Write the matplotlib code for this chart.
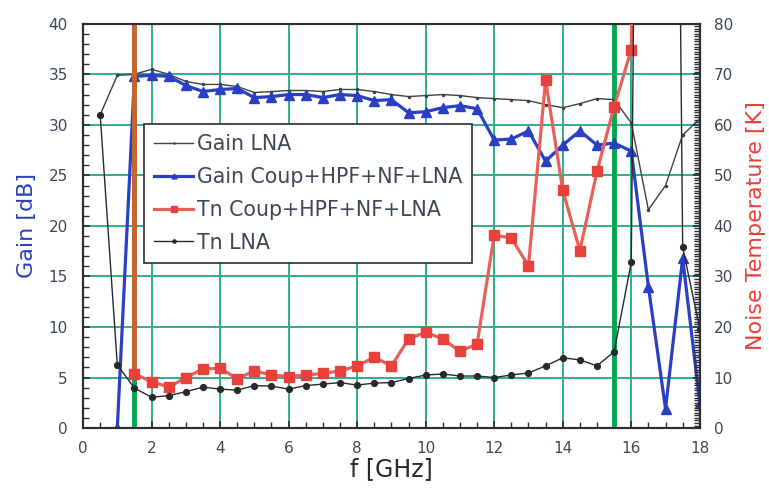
import numpy as np
import matplotlib
matplotlib.use("Agg")
import matplotlib.pyplot as plt
from matplotlib.ticker import MultipleLocator

plt.rcParams['font.family'] = ['DejaVu Sans']

# --- data ---
f_gain_lna = [0.5, 1.0, 1.5, 2.0, 2.5, 3.0, 3.5, 4.0, 4.5, 5.0, 5.5, 6.0, 6.5, 7.0, 7.5, 8.0, 8.5,
              9.0, 9.5, 10.0, 10.5, 11.0, 11.5, 12.0, 12.5, 13.0, 13.5, 14.0, 14.5, 15.0, 15.5,
              16.0, 16.5, 17.0, 17.5, 18.0]
gain_lna = [31.0, 34.9, 35.0, 35.5, 35.0, 34.3, 34.0, 34.0, 33.8, 33.2, 33.3, 33.4, 33.4, 33.3, 33.5,
            33.5, 33.3, 33.0, 32.8, 32.9, 33.0, 32.9, 32.7, 32.6, 32.5, 32.4, 32.0, 31.7, 32.1, 32.6,
            32.5, 30.2, 21.6, 24.0, 29.0, 30.6]

f_gain_coup = [1.0, 1.5, 2.0, 2.5, 3.0, 3.5, 4.0, 4.5, 5.0, 5.5, 6.0, 6.5, 7.0, 7.5, 8.0, 8.5, 9.0,
               9.5, 10.0, 10.5, 11.0, 11.5, 12.0, 12.5, 13.0, 13.5, 14.0, 14.5, 15.0, 15.5, 16.0,
               16.5, 17.0, 17.5, 18.0]
gain_coup = [0.0, 34.8, 34.9, 34.8, 33.9, 33.3, 33.5, 33.6, 32.7, 32.8, 33.0, 33.0, 32.7, 33.0, 32.9,
             32.4, 32.5, 31.2, 31.3, 31.7, 31.9, 31.6, 28.5, 28.6, 29.4, 26.4, 28.0, 29.4, 28.0,
             28.2, 27.4, 14.0, 1.9, 16.8, 2.5]

# first and last points are off the top of the chart
f_tn_coup = [1.5, 1.5, 2.0, 2.5, 3.0, 3.5, 4.0, 4.5, 5.0, 5.5, 6.0, 6.5, 7.0, 7.5, 8.0, 8.5, 9.0,
             9.5, 10.0, 10.5, 11.0, 11.5, 12.0, 12.5, 13.0, 13.5, 14.0, 14.5, 15.0, 15.5, 16.0, 16.5]
tn_coup = [400, 10.7, 9.2, 8.1, 10.0, 11.7, 11.8, 9.8, 11.3, 10.5, 10.2, 10.5, 10.8, 11.3, 12.3,
           14.0, 12.3, 17.6, 19.0, 17.6, 15.2, 16.6, 38.2, 37.6, 32.1, 68.9, 47.1, 35.1, 50.8,
           63.6, 74.9, 300]

f_tn_lna = [0.5, 1.0, 1.5, 2.0, 2.5, 3.0, 3.5, 4.0, 4.5, 5.0, 5.5, 6.0, 6.5, 7.0, 7.5, 8.0, 8.5,
            9.0, 9.5, 10.0, 10.5, 11.0, 11.5, 12.0, 12.5, 13.0, 13.5, 14.0, 14.5, 15.0, 15.5,
            16.0, 16.5, 17.0, 17.5, 18.0]
tn_lna = [62.0, 12.5, 7.9, 6.1, 6.4, 7.2, 8.1, 7.7, 7.5, 8.4, 8.3, 7.7, 8.4, 8.7, 9.0, 8.5, 8.9,
          9.0, 9.8, 10.5, 10.7, 10.3, 10.3, 10.0, 10.5, 10.9, 12.3, 13.9, 13.5, 12.3, 15.1,
          32.8, 400, 400, 35.8, 19.6]

band_edges = [1.5, 15.5]

labels = ["Gain LNA", "Gain Coup+HPF+NF+LNA", "Tn Coup+HPF+NF+LNA", "Tn LNA"]

# --- colours ---
c_tick = '#3a4858'
c_grid = '#2fae8a'
c_green = '#00a651'
c_blue = '#2b3fc4'
c_red = '#e8403a'
c_orange = '#c8642e'
c_black = '#252a2e'

fig = plt.figure(figsize=(7.69, 4.96), dpi=100)
ax = fig.add_axes([0.108, 0.137, 0.802, 0.815])
ax2 = ax.twinx()

ax.set_xlim(0, 18)
ax.set_ylim(0, 40)
ax2.set_ylim(0, 80)

ax.xaxis.set_major_locator(MultipleLocator(2))
ax.xaxis.set_minor_locator(MultipleLocator(0.5))
ax.yaxis.set_major_locator(MultipleLocator(5))
ax.yaxis.set_minor_locator(MultipleLocator(1))
ax2.yaxis.set_major_locator(MultipleLocator(10))
ax2.yaxis.set_minor_locator(MultipleLocator(0.5))

ax.grid(True, which='major', color=c_grid, lw=1.4, zorder=0)
ax.set_axisbelow(True)

for x in band_edges:
    ax.axvline(x, color=c_green, lw=3.5, zorder=1)

ax.plot(f_gain_lna, gain_lna, color='#3a4246', lw=1.0, marker='.', ms=3, zorder=3, label=labels[0])
ax.plot(f_gain_coup, gain_coup, color=c_blue, lw=2.3, marker='^', ms=6.5, zorder=4, label=labels[1])

ax2.plot(f_tn_coup[:2], tn_coup[:2], color=c_orange, lw=3.5, zorder=2)
ax2.plot(f_tn_coup[1:], tn_coup[1:], color='#e8605a', lw=2.3, marker='s', ms=7,
         mfc=c_red, mec=c_red, zorder=3, label=labels[2])
ax2.plot(f_tn_lna, tn_lna, color=c_black, lw=1.0, marker='o', ms=4.2, zorder=4, label=labels[3])

for a in (ax, ax2):
    for s in a.spines.values():
        s.set_color('#2a2e33')
        s.set_linewidth(1.5)

ax.tick_params(axis='both', which='both', direction='in', colors='#2a2e33',
               labelcolor=c_tick, labelsize=11)
ax.tick_params(axis='both', which='major', length=5, width=1.2)
ax.tick_params(axis='both', which='minor', length=4, width=1.0)
ax.tick_params(axis='x', which='major', pad=9)
ax.tick_params(axis='y', which='major', pad=11)
ax2.tick_params(axis='y', which='both', direction='in', colors='#2a2e33',
                labelcolor=c_tick, labelsize=11)
ax2.tick_params(axis='y', which='major', length=5, width=1.2, pad=10)
ax2.tick_params(axis='y', which='minor', length=4, width=1.0)

ax.set_xlabel("f [GHz]", fontsize=17, color=c_black, labelpad=1)
ax.set_ylabel("Gain [dB]", fontsize=16, color=c_blue, labelpad=8)
ax2.set_ylabel("Noise Temperature [K]", fontsize=16, color=c_red, labelpad=9)

h1, l1 = ax.get_legend_handles_labels()
h2, l2 = ax2.get_legend_handles_labels()
leg = ax2.legend(h1 + h2, l1 + l2, loc='upper left', bbox_to_anchor=(0.099, 0.752),
                 borderaxespad=0, fontsize=14.8, frameon=True, fancybox=False,
                 handlelength=1.9, handletextpad=0.15, labelspacing=0.62,
                 borderpad=0.5, markerscale=0.55)
leg.get_frame().set_edgecolor('#2a2e33')
leg.get_frame().set_linewidth(1.2)
leg.get_frame().set_alpha(1)
leg.set_zorder(10)
for t in leg.get_texts():
    t.set_color(c_tick)

fig.savefig("out.png", dpi=100, facecolor='white')
